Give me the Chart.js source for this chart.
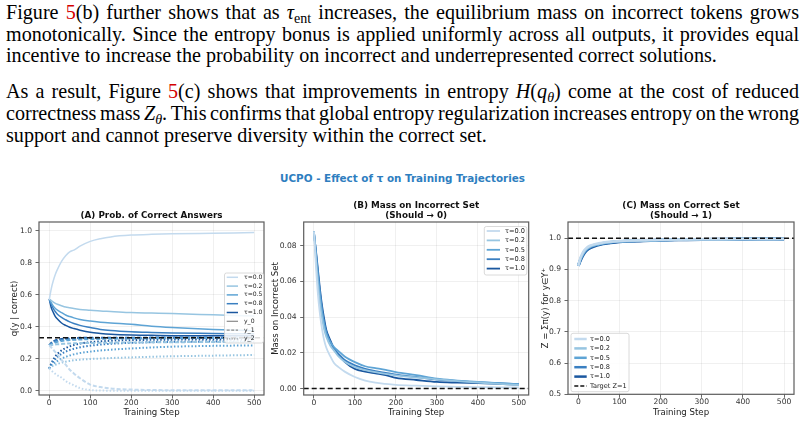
<!DOCTYPE html>
<html><head><meta charset="utf-8">
<script src="https://cdn.jsdelivr.net/npm/chart.js@4.4.0/dist/chart.umd.min.js"></script>
<style>
html,body{margin:0;padding:0;background:#fff;width:805px;height:423px;overflow:hidden;position:relative;}
#txt{position:absolute;left:6px;top:2px;width:793px;font-family:'Liberation Serif',serif;font-size:18px;line-height:21.7px;color:#000;}
#txt p{margin:0;}
#txt p+p{margin-top:14.5px;}
#txt .l,#txt .e{display:block;white-space:nowrap;font-family:'Liberation Serif',serif;}
#txt .r{color:#d40000;}
#txt i{font-style:italic;}
#txt sub{font-size:0.7em;vertical-align:-0.25em;line-height:0;}
#main{position:absolute;left:0;width:805px;top:172px;text-align:center;font-family:'DejaVu Sans',sans-serif;font-weight:bold;font-size:10.4px;color:#2e7ebf;}
canvas{position:absolute;top:200px;}
</style></head>
<body>
<div id="txt">
<p><span class="l">Figure <span class="r">5</span>(b) further shows that as <i>τ</i><sub>ent</sub> increases, the equilibrium mass on incorrect tokens grows</span><span class="l">monotonically. Since the entropy bonus is applied uniformly across all outputs, it provides equal</span><span class="e" id="ref3">incentive to increase the probability on incorrect and underrepresented correct solutions.</span></p>
<p><span class="l">As a result, Figure <span class="r">5</span>(c) shows that improvements in entropy <i>H</i>(<i>q</i><sub><i>θ</i></sub>) come at the cost of reduced</span><span class="l">correctness mass <i>Z</i><sub><i>θ</i></sub>. This confirms that global entropy regularization increases entropy on the wrong</span><span class="e">support and cannot preserve diversity within the correct set.</span></p>
</div>
<div id="main">UCPO - Effect of τ on Training Trajectories</div>
<canvas id="cA" width="270" height="223" style="left:0px"></canvas>
<canvas id="cB" width="265" height="223" style="left:270px"></canvas>
<canvas id="cC" width="270" height="223" style="left:535px"></canvas>
<script>
// size the text so the unjustified third line matches its width in the page, then justify
(function(){
  const W = 793, TARGET = 711;
  const box = document.getElementById('txt');
  const lines = document.querySelectorAll('#txt .l, #txt .e');
  lines.forEach(el=>{ el.style.display = 'inline-block'; });
  const w0 = document.getElementById('ref3').getBoundingClientRect().width;
  let f = 18 * TARGET / w0;
  f = Math.max(14, Math.min(22, f));
  box.style.fontSize = f + 'px';
  box.style.top = (19.5 - (10.85 + 0.3375*f)) + 'px';
  lines.forEach(el=>{
    const w = el.getBoundingClientRect().width;
    const n = (el.textContent.match(/ /g)||[]).length;
    if (el.classList.contains('l') || w > W) el.style.wordSpacing = ((W - w)/n) + 'px';
  });
  lines.forEach(el=>{ el.style.display = 'block'; });
})();

// ---------- data ----------
const tauLabels = ['τ=0.0','τ=0.2','τ=0.5','τ=0.8','τ=1.0'];
const answerLabels = ['y_0','y_1','y_2'];
const xTicks = [0,100,200,300,400,500];
const ticksA = [0,0.2,0.4,0.6,0.8,1.0];
const ticksB = [0,0.02,0.04,0.06,0.08];
const ticksC = [0.5,0.6,0.7,0.8,0.9,1.0];
const uniformRef = 1/3;
const zeroRef = 0;
const targetZ = 1;

// Panel A: q(y | correct)
const stepsA = [0,5,10,15,20,30,40,50,60,75,100,125,150,200,250,300,400,500];
const aY0_t00 = [0.57,0.64,0.69,0.73,0.76,0.81,0.845,0.87,0.88,0.905,0.935,0.952,0.963,0.974,0.979,0.982,0.986,0.99];
const aY0_t02 = [0.575,0.565,0.556,0.548,0.542,0.533,0.525,0.52,0.515,0.51,0.505,0.5,0.497,0.49,0.487,0.484,0.476,0.468];
const aY0_t05 = [0.575,0.55,0.53,0.515,0.505,0.49,0.475,0.465,0.457,0.447,0.437,0.43,0.425,0.417,0.405,0.397,0.385,0.377];
const aY0_t08 = [0.575,0.54,0.515,0.495,0.48,0.46,0.445,0.432,0.422,0.41,0.397,0.385,0.378,0.37,0.366,0.363,0.36,0.357];
const aY0_t10 = [0.575,0.52,0.49,0.465,0.45,0.425,0.41,0.398,0.39,0.38,0.367,0.36,0.355,0.35,0.348,0.346,0.345,0.345];
const aY1_t00 = [0.285,0.272,0.258,0.243,0.228,0.195,0.165,0.133,0.11,0.08,0.04,0.025,0.016,0.009,0.006,0.005,0.004,0.004];
const aY1_t02 = [0.285,0.287,0.289,0.291,0.292,0.294,0.296,0.297,0.298,0.299,0.3,0.301,0.302,0.303,0.304,0.305,0.306,0.307];
const aY1_t05 = [0.285,0.292,0.298,0.303,0.307,0.312,0.316,0.318,0.32,0.322,0.324,0.326,0.327,0.328,0.329,0.33,0.331,0.332];
const aY1_t08 = [0.285,0.296,0.305,0.311,0.315,0.32,0.323,0.325,0.327,0.328,0.329,0.33,0.331,0.331,0.332,0.332,0.332,0.333];
const aY1_t10 = [0.285,0.3,0.31,0.316,0.32,0.325,0.328,0.33,0.331,0.332,0.332,0.333,0.333,0.333,0.333,0.333,0.333,0.333];
const aY2_t00 = [0.14,0.128,0.117,0.107,0.098,0.083,0.062,0.048,0.036,0.018,0.006,0.003,0.002,0.001,0.001,0.001,0.001,0.001];
const aY2_t02 = [0.14,0.15,0.158,0.164,0.169,0.177,0.183,0.188,0.192,0.196,0.2,0.203,0.206,0.21,0.214,0.217,0.221,0.225];
const aY2_t05 = [0.14,0.155,0.168,0.179,0.188,0.202,0.213,0.222,0.229,0.237,0.246,0.253,0.258,0.266,0.272,0.277,0.282,0.285];
const aY2_t08 = [0.14,0.165,0.185,0.2,0.213,0.232,0.246,0.256,0.264,0.273,0.283,0.29,0.295,0.301,0.305,0.307,0.309,0.31];
const aY2_t10 = [0.14,0.172,0.197,0.217,0.232,0.254,0.268,0.279,0.287,0.296,0.305,0.31,0.314,0.318,0.32,0.321,0.322,0.322];

// Panel B: mass on incorrect set
const stepsBC = [0,5,10,15,20,25,30,40,50,60,75,100,125,150,175,200,250,300,350,400,450,500];
const b_t00 = [0.088,0.068,0.052,0.041,0.033,0.027,0.023,0.018,0.014,0.012,0.0095,0.0065,0.0045,0.0033,0.0026,0.0021,0.0016,0.0012,0.001,0.0008,0.0007,0.0006];
const b_t02 = [0.088,0.072,0.058,0.047,0.039,0.033,0.029,0.024,0.021,0.018,0.015,0.012,0.0104,0.0092,0.0082,0.0074,0.0062,0.0052,0.0042,0.0034,0.0026,0.002];
const b_t05 = [0.088,0.075,0.063,0.052,0.043,0.036,0.031,0.026,0.023,0.021,0.018,0.0148,0.0125,0.0115,0.0105,0.0092,0.0075,0.0055,0.0045,0.0037,0.003,0.0025];
const b_t08 = [0.088,0.076,0.064,0.053,0.044,0.037,0.032,0.026,0.022,0.0195,0.016,0.013,0.011,0.0098,0.0088,0.0078,0.0065,0.005,0.0042,0.0035,0.003,0.0025];
const b_t10 = [0.087,0.077,0.066,0.055,0.046,0.039,0.033,0.027,0.022,0.019,0.015,0.011,0.0095,0.0085,0.0075,0.006,0.0048,0.0037,0.0033,0.003,0.0026,0.0022];

// Panel C: mass on correct set
const c_t00 = [0.912,0.937,0.952,0.962,0.969,0.974,0.977,0.981,0.984,0.986,0.9885,0.991,0.9925,0.9935,0.994,0.9948,0.9958,0.9967,0.9971,0.9974,0.9977,0.998];
const c_t02 = [0.912,0.934,0.948,0.959,0.966,0.971,0.975,0.979,0.982,0.985,0.9875,0.9903,0.9915,0.9925,0.9933,0.9943,0.9955,0.9965,0.997,0.9973,0.9976,0.9979];
const c_t05 = [0.912,0.932,0.946,0.957,0.965,0.97,0.974,0.978,0.981,0.984,0.987,0.99,0.9913,0.9922,0.993,0.9942,0.9954,0.9964,0.9968,0.9972,0.9975,0.9978];
const c_t08 = [0.912,0.93,0.944,0.955,0.963,0.968,0.972,0.977,0.98,0.983,0.986,0.9895,0.991,0.992,0.993,0.994,0.9953,0.9963,0.9968,0.9971,0.9975,0.9978];
const c_t10 = [0.912,0.928,0.942,0.953,0.961,0.966,0.97,0.975,0.979,0.982,0.985,0.989,0.9905,0.9915,0.9925,0.994,0.9952,0.9963,0.9967,0.997,0.9974,0.9978];

// ---------- styling ----------
const tauColors = ['#c3daee','#97c5e1','#5ea4d5','#3a7fc1','#1a579f'];
const cWidths = [2.5,2.5,2.5,2.7,3];
const gray = '#8a8a8a';
const FONT = "'DejaVu Sans', sans-serif";
const DASH = [4,2];
const DOT = [1.5,2];

function pts(steps, vals){ return steps.map((s,i)=>({x:s,y:vals[i]})); }

const decor = {
  id:'decor',
  afterDatasetsDraw(chart, args, o){
    const {ctx, chartArea:a, scales} = chart;
    if (o.ref !== undefined){
      const y = scales.y.getPixelForValue(o.ref);
      ctx.save();
      ctx.beginPath(); ctx.setLineDash([5,3]); ctx.lineWidth = 1.5; ctx.strokeStyle = '#111';
      ctx.moveTo(a.left, y); ctx.lineTo(a.right, y); ctx.stroke();
      ctx.restore();
    }
  },
  afterDraw(chart, args, o){
    const {ctx, chartArea:a} = chart;
    ctx.save();
    ctx.lineWidth = 1.2; ctx.strokeStyle = '#5c5c5c'; ctx.setLineDash([]);
    ctx.strokeRect(a.left, a.top, a.right-a.left, a.bottom-a.top);
    ctx.fillStyle = '#111'; ctx.font = 'bold 8.8px ' + FONT; ctx.textAlign = 'center'; ctx.textBaseline = 'middle';
    o.title.forEach((t,i)=> ctx.fillText(t, (a.left+a.right)/2, o.titleY[i]));
    const L = o.legend;
    ctx.beginPath();
    ctx.roundRect(L.x, L.y, L.w, L.h, 2);
    ctx.fillStyle = 'rgba(255,255,255,0.85)'; ctx.fill();
    ctx.lineWidth = 0.8; ctx.strokeStyle = '#d0d0d0'; ctx.stroke();
    ctx.font = L.fs + 'px ' + FONT; ctx.textAlign = 'left'; ctx.fillStyle = '#222';
    L.items.forEach((it,i)=>{
      const y = L.y0 + i*L.dy;
      ctx.beginPath(); ctx.setLineDash(it.dash || []); ctx.lineWidth = it.w; ctx.strokeStyle = it.c;
      ctx.moveTo(L.lx0, y); ctx.lineTo(L.lx1, y); ctx.stroke();
      ctx.setLineDash([]);
      ctx.fillText(it.label, L.tx, y);
    });
    ctx.restore();
  }
};

function scales(yMin, yMax, yTicks, yFmt, yTitle, yW, yTitlePad, xH){
  const tickFont = {family: FONT, size: 7.6};
  const grid = {color:'rgba(0,0,0,0.08)', lineWidth:0.8, drawTicks:true, tickLength:3.5, tickColor:'#444'};
  const titleFont = {family:FONT, size:8.6};
  return {
    x: {type:'linear', min:-25, max:524,
        afterBuildTicks: s => { s.ticks = xTicks.map(v=>({value:v})); },
        afterFit: s => { s.height = xH; },
        ticks:{font:tickFont, color:'#333', padding:0, autoSkip:false, maxRotation:0, callback: v => String(v)},
        grid, border:{display:false},
        title:{display:true, text:'Training Step', font:titleFont, color:'#222', padding:{top:0,bottom:5.5}}},
    y: {type:'linear', min:yMin, max:yMax,
        afterBuildTicks: s => { s.ticks = yTicks.map(v=>({value:v})); },
        afterFit: s => { s.width = yW; },
        ticks:{font:tickFont, color:'#333', padding:3.5, autoSkip:false, callback: v => yFmt(v)},
        grid, border:{display:false},
        title:{display:true, text:yTitle, font:titleFont, color:'#222', padding:{top:yTitlePad, bottom:0}}}
  };
}

const base = {responsive:false, animation:false, events:[],
  elements:{point:{radius:0}, line:{cubicInterpolationMode:'monotone'}}};

// ---------- Panel A ----------
const aY0 = [aY0_t00,aY0_t02,aY0_t05,aY0_t08,aY0_t10];
const aY1 = [aY1_t00,aY1_t02,aY1_t05,aY1_t08,aY1_t10];
const aY2 = [aY2_t00,aY2_t02,aY2_t05,aY2_t08,aY2_t10];
const dsA = [];
for (let k=0;k<5;k++){
  dsA.push({label:tauLabels[k]+' '+answerLabels[0], data:pts(stepsA,aY0[k]), borderColor:tauColors[k], borderWidth:1.5});
  dsA.push({label:tauLabels[k]+' '+answerLabels[1], data:pts(stepsA,aY1[k]), borderColor:tauColors[k], borderWidth:2, borderDash:DASH});
  dsA.push({label:tauLabels[k]+' '+answerLabels[2], data:pts(stepsA,aY2[k]), borderColor:tauColors[k], borderWidth:2, borderDash:DOT});
}
new Chart(document.getElementById('cA'), {
  type:'line', data:{datasets:dsA},
  options:Object.assign({}, base, {
    layout:{padding:{top:22, right:6, left:0, bottom:0}},
    scales: scales(-0.025, 1.056, ticksA, v=>v.toFixed(1), 'q(y | correct)', 39, 10.1, 28),
    plugins:{legend:{display:false}, tooltip:{enabled:false},
      decor:{ref:uniformRef, title:['(A) Prob. of Correct Answers'], titleY:[15.7],
        legend:{x:224.5, y:73, w:39, h:70, y0:77.3, dy:8.8, lx0:226.7, lx1:238, tx:244, fs:6.1,
          items: tauLabels.map((t,k)=>({label:t, c:tauColors[k], w:1.5})).concat([
            {label:answerLabels[0], c:gray, w:1.2},
            {label:answerLabels[1], c:gray, w:1.2, dash:[3,1.5]},
            {label:answerLabels[2], c:gray, w:1.2, dash:[1,1.5]}])}}}
  }),
  plugins:[decor]
});

// ---------- Panel B ----------
const bAll = [b_t00,b_t02,b_t05,b_t08,b_t10];
new Chart(document.getElementById('cB'), {
  type:'line',
  data:{datasets: bAll.map((v,k)=>({label:tauLabels[k], data:pts(stepsBC,v), borderColor:tauColors[k], borderWidth:1.8}))},
  options:Object.assign({}, base, {
    layout:{padding:{top:22, right:6.3, left:0, bottom:0}},
    scales: scales(-0.0036, 0.0933, ticksB, v=>v.toFixed(2), 'Mass on Incorrect Set', 33.7, 0.8, 28),
    plugins:{legend:{display:false}, tooltip:{enabled:false},
      decor:{ref:zeroRef, title:['(B) Mass on Incorrect Set','(Should → 0)'], titleY:[5.7,15.7],
        legend:{x:214.3, y:26.5, w:42.5, h:48.5, y0:31, dy:9.4, lx0:216.7, lx1:230, tx:235, fs:6.6,
          items: tauLabels.map((t,k)=>({label:t, c:tauColors[k], w:1.8}))}}}
  }),
  plugins:[decor]
});

// ---------- Panel C ----------
const cAll = [c_t00,c_t02,c_t05,c_t08,c_t10];
new Chart(document.getElementById('cC'), {
  type:'line',
  data:{datasets: cAll.map((v,k)=>({label:tauLabels[k], data:pts(stepsBC,v), borderColor:tauColors[k], borderWidth:cWidths[k]}))},
  options:Object.assign({}, base, {
    layout:{padding:{top:22, right:11, left:0, bottom:0}},
    scales: scales(0.5, 1.052, ticksC, v=>v.toFixed(1), 'Z = Σπ(y) for y∈Y⁺', 33, 5.5, 28.7),
    plugins:{legend:{display:false}, tooltip:{enabled:false},
      decor:{ref:targetZ, title:['(C) Mass on Correct Set','(Should → 1)'], titleY:[5.7,15.7],
        legend:{x:36, y:133.3, w:58, h:58.4, y0:139, dy:9.4, lx0:39.3, lx1:51.7, tx:55, fs:6.6,
          items: tauLabels.map((t,k)=>({label:t, c:tauColors[k], w:2.5})).concat([
            {label:'Target Z=1', c:'#111', w:1.5, dash:[4,2]}])}}}
  }),
  plugins:[decor]
});
</script>
</body></html>
